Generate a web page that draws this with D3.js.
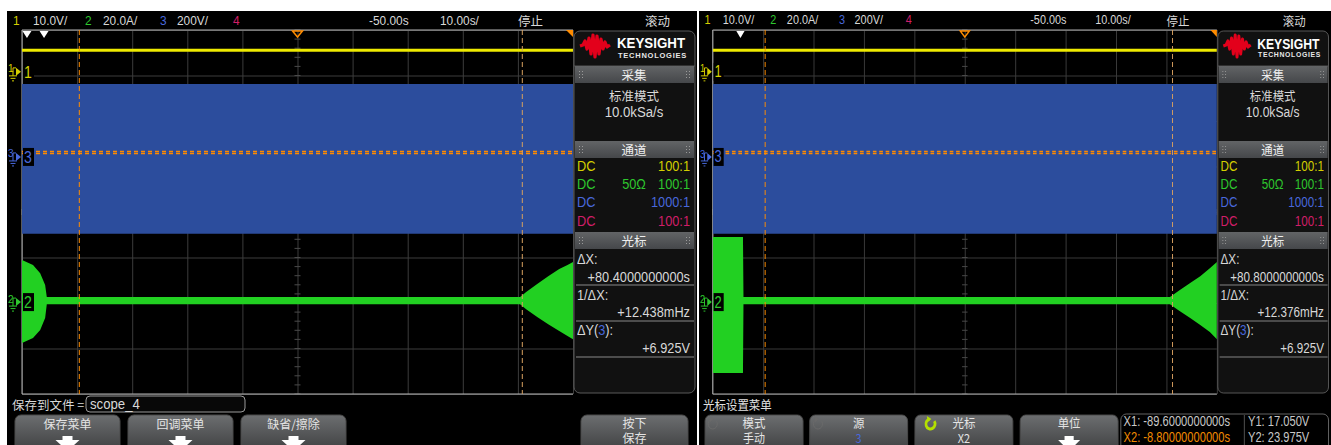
<!DOCTYPE html>
<html><head><meta charset="utf-8">
<script src="https://cdn.jsdelivr.net/npm/d3@7"></script>
<style>body{margin:0;background:#fff}svg{display:block}</style>
</head><body><svg id="c" width="1331" height="445"></svg>
<script>
// ---------------- data ----------------
const timeDomain = [-100, 0];                     // s  (-50 s centre, 10 s/div)
const timeTicks = [-100,-90,-80,-70,-60,-50,-40,-30,-20,-10,0];
const divTicks = [-4,-3,-2,-1,0,1,2,3,4];
const channelLabels = ["1","2","3","4"];
const channelScaleText = ["10.0V/","20.0A/","200V/",""];
const channelPerDiv = [10, 20, 200, 100];
const channelOffsetDiv = [3.08, -1.98, 1.21, 0];
const channelCoupling = ["DC","DC","DC","DC"];
const channelImpedance = ["","50Ω","",""];
const channelProbe = ["100:1","100:1","1000:1","100:1"];
const timebaseText = ["-50.00s","10.00s/"];
const runStateText = "停止";
const modeText = "滚动";
const acqTitle = "采集", chanTitle = "通道", cursorTitle = "光标";
const acqMode = ["标准模式","10.0kSa/s"];

// traces: [time s, min, max]
const ch1Trace = [[-100, 4.4, 5.1], [0, 4.4, 5.1]];
const ch3Trace = [[-100, -338, 321], [0, -338, 321]];
const ch2TraceA = [
  [-100,-18.0,18.5],[-98.0,-15.8,16.3],[-96.7,-12.3,12.7],[-95.8,-7.0,7.5],[-95.5,-0.9,2.2],
  [-9.6,-0.9,2.2],[-8.5,-3.1,4.4],[-6.5,-6.6,7.9],[-4.5,-9.7,11.4],[-2.5,-12.7,14.5],[-1.0,-14.9,16.3],[0,-16.3,17.6]];
const ch2TraceB = [
  [-100,-31.2,28.6],[-94.0,-31.2,28.6],[-93.9,-0.9,2.2],
  [-9.3,-0.9,2.2],[-7.7,-3.5,4.8],[-5.3,-7.0,8.4],[-3.3,-10.1,11.4],[-1.4,-13.2,14.9],[0,-16.3,17.6]];

// cursors
const cursorX1 = [-89.6, -89.6];
const cursorX2 = [-9.2, -8.8];
const cursorY = [17.05, 23.975];
const deltaXText = ["+80.4000000000s", "+80.8000000000s"];
const invDeltaXText = ["+12.438mHz", "+12.376mHz"];
const deltaYText = "+6.925V";
const refMarkers = [[-99.1, -96.0], [-94.5]];

// menus
const saveMenuPrompt = "保存到文件 =";
const saveMenuFile = "scope_4";
const saveMenuButtons = ["保存菜单","回调菜单","缺省/擦除"];
const saveMenuPress = ["按下","保存"];
const cursorMenuTitle = "光标设置菜单";
const cursorMenuButtons = [["模式","手动"],["源","3"],["光标","X2"],["单位",""]];
const cursorReadout = [["X1: -89.6000000000s","Y1: 17.050V"],["X2: -8.80000000000s","Y2: 23.975V"]];

// ---------------- drawing ----------------
const textColors = ["#d4cf00","#2ec82e","#4868dc","#d01e68"];
const FONT = "'Liberation Sans',Arial,sans-serif";
const CJK = "'Noto Sans CJK SC','Noto Sans CJK JP',sans-serif";

const svg = d3.select("#c");
const defs = svg.append("defs");
const btnGrad = defs.append("linearGradient").attr("id","btnGrad").attr("x1",0).attr("x2",0).attr("y1",0).attr("y2",1);
btnGrad.append("stop").attr("offset","0%").attr("stop-color","#6c6e70");
btnGrad.append("stop").attr("offset","100%").attr("stop-color","#3a3b3c");
const hdrGrad = defs.append("linearGradient").attr("id","hdrGrad").attr("x1",0).attr("x2",0).attr("y1",0).attr("y2",1);
hdrGrad.append("stop").attr("offset","0%").attr("stop-color","#626466");
hdrGrad.append("stop").attr("offset","100%").attr("stop-color","#45474a");

const screens = [
  {id:"A", tx:7, sx:1, w:690, ch2:ch2TraceA, i:0, menu:"save"},
  {id:"B", tx:699, sx:0.915, w:692, ch2:ch2TraceB, i:1, menu:"cursor"}
];

function txt(g, x, y, s, opt={}) {
  const sq = opt.sq || (opt.cjk ? 1 : 0.88);
  return g.append("text").attr("x",x/sq).attr("y",y).text(s)
    .attr("transform",`scale(${sq},1)`)
    .attr("font-family", opt.cjk ? CJK : FONT)
    .attr("font-size", opt.size || 13.5)
    .attr("font-weight", opt.weight || "normal")
    .attr("fill", opt.color || "#d8d8d8")
    .attr("text-anchor", opt.anchor || "start")
    .attr("dominant-baseline","central");
}

function downArrow(g, cx, top) {
  g.append("path").attr("fill","#fff")
    .attr("d",`M${cx-5},${top} h10 v4 h7 l-12,11 l-12,-11 h7 z`);
}

function cycleIcon(g, cx, cy, color, w) {
  const r = 5;
  g.append("path").attr("fill","none").attr("stroke",color).attr("stroke-width",w)
    .attr("d",`M${cx+r*Math.cos(-0.6)},${cy+r*Math.sin(-0.6)} A${r},${r} 0 1 1 ${cx-r*0.2},${cy-r*0.98}`);
  g.append("path").attr("fill",color).attr("d",`M${cx-r*0.2-3},${cy-r-3} l5,3 l-4,3 z`);
}

function grip(g, x, y) {
  for (let c=0;c<2;c++) for (let r=0;r<3;r++)
    g.append("rect").attr("x",x+c*3).attr("y",y+r*3).attr("width",1).attr("height",1).attr("fill","#9a9a9a");
}

screens.forEach(s => {
  const g = svg.append("g").attr("transform",`translate(${s.tx},0) scale(${s.sx},1)`);
  const X0 = 15, X1 = 566, Y0 = 30, Y1 = 394;
  g.append("rect").attr("x",0).attr("y",11).attr("width",s.w).attr("height",434).attr("fill","#000");

  const x = d3.scaleLinear().domain(timeDomain).range([X0, X1]);
  const yDiv = d3.scaleLinear().domain([-4, 4]).range([Y1, Y0]);
  const yCh = k => d3.scaleLinear()
      .domain([(-4 - channelOffsetDiv[k]) * channelPerDiv[k], (4 - channelOffsetDiv[k]) * channelPerDiv[k]])
      .range([Y1, Y0]);

  // ---- status bar ----
  txt(g, 6, 20, channelLabels[0], {color:textColors[0]});
  txt(g, 26, 20, channelScaleText[0]);
  txt(g, 78, 20, channelLabels[1], {color:textColors[1]});
  txt(g, 96, 20, channelScaleText[1]);
  txt(g, 153, 20, channelLabels[2], {color:textColors[2]});
  txt(g, 170, 20, channelScaleText[2]);
  txt(g, 226, 20, channelLabels[3], {color:textColors[3]});
  txt(g, 362, 20, timebaseText[0]);
  txt(g, 433, 20, timebaseText[1]);
  txt(g, 511, 20, runStateText, {cjk:true, size:12.5});
  txt(g, 638, 20, modeText, {cjk:true, size:12.5});

  // ---- graticule ----
  const clipId = "clip" + s.id;
  defs.append("clipPath").attr("id", clipId).append("rect")
    .attr("x",X0).attr("y",Y0).attr("width",X1-X0).attr("height",Y1-Y0);

  const gx = g.append("g").attr("transform",`translate(0,${Y0})`)
    .call(d3.axisBottom(x).tickValues(timeTicks).tickSize(Y1-Y0).tickFormat(""));
  gx.select(".domain").remove();
  gx.selectAll("line").attr("stroke","#3c3c3c");
  const gy = g.append("g").attr("transform",`translate(${X0},0)`)
    .call(d3.axisRight(yDiv).tickValues(divTicks).tickSize(X1-X0).tickFormat(""));
  gy.select(".domain").remove();
  gy.selectAll("line").attr("stroke","#3c3c3c");
  // minor ticks on centre lines
  const minor = g.append("g").attr("stroke","#4a4a4a");
  d3.range(-4, 4.001, 0.2).forEach(v => minor.append("line")
    .attr("x1", x(-50)-3).attr("x2", x(-50)+3).attr("y1", yDiv(v)).attr("y2", yDiv(v)));
  d3.range(-100, 0.001, 2).forEach(t => minor.append("line")
    .attr("x1", x(t)).attr("x2", x(t)).attr("y1", yDiv(0)-3).attr("y2", yDiv(0)+3));
  // border
  g.append("path").attr("fill","none").attr("stroke","#b4b4b4")
    .attr("d",`M${X1},${Y0} H${X0} V${Y1} H${X1}`);

  const plot = g.append("g").attr("clip-path",`url(#${clipId})`);
  const area = ys => d3.area().x(d => x(d[0])).y0(d => ys(d[1])).y1(d => ys(d[2]));

  // ch3 (blue band)
  plot.append("path").datum(ch3Trace).attr("d", area(yCh(2))).attr("fill","#2c4d9d");
  // ch1 (yellow)
  plot.append("path").datum(ch1Trace).attr("d", area(yCh(0))).attr("fill","#eeea00");
  // ch2 (green)
  plot.append("path").datum(s.ch2).attr("d", area(yCh(1))).attr("fill","#22d022");

  // cursors
  cursorY.forEach(v => {
    const yy = Math.round(yCh(2)(v)) + 0.5;
    plot.append("line").attr("x1",X0).attr("x2",X1).attr("y1", yy).attr("y2", yy)
      .attr("stroke","#ff8a00").attr("stroke-width",1.4).attr("stroke-dasharray","4,3");
  });
  plot.append("line").attr("x1", x(cursorX1[s.i])).attr("x2", x(cursorX1[s.i]))
      .attr("y1",Y0).attr("y2",Y1).attr("stroke","#ff8c00").attr("stroke-dasharray","5,3");
  plot.append("line").attr("x1", x(cursorX2[s.i])).attr("x2", x(cursorX2[s.i]))
      .attr("y1",Y0).attr("y2",Y1).attr("stroke","#d8a060").attr("stroke-dasharray","5,3");

  // trigger / reference markers
  g.append("path").attr("fill","none").attr("stroke","#ff8c00").attr("stroke-width",1.5)
    .attr("d",`M${x(-50)-5},${Y0+1} L${x(-50)+5},${Y0+1} L${x(-50)},${Y0+7} Z`);
  g.append("path").attr("fill","#ff8c00").attr("d",`M${X1-7},${Y0} L${X1},${Y0} L${X1},${Y0+7} Z`);
  refMarkers[s.i].forEach(t => g.append("path").attr("fill","#fff")
    .attr("d",`M${x(t)-4.5},${Y0+1} L${x(t)+4.5},${Y0+1} L${x(t)},${Y0+8} Z`));

  // channel ground markers
  [0,2,1].forEach(k => {
    const yy = yCh(k)(0), c = textColors[k];
    txt(g, 1, yy-3, channelLabels[k], {color:c, size:10, sq:1});
    g.append("path").attr("fill",c).attr("d",`M${9},${yy-4} l5,4 l-5,4 z`);
    g.append("path").attr("stroke",c).attr("fill","none")
      .attr("d",`M6,${yy-4} h3 M6,${yy-4} v8 M2,${yy+4} h8 M3.5,${yy+6.5} h5 M5,${yy+9} h2`);
    g.append("rect").attr("x",X0+1).attr("y",yy-9).attr("width",11).attr("height",18).attr("fill","#000");
    txt(g, X0+2, yy, channelLabels[k], {color:c, size:16});
  });

  // ---- sidebar ----
  const SX0 = 567, SX1 = 688;
  g.append("rect").attr("x",SX0).attr("y",31).attr("width",SX1-SX0).attr("height",362)
    .attr("rx",6).attr("fill","#111").attr("stroke","#5a5a5a");
  // logo
  const logoPts = [[0,12],[3,11],[5,7],[7,15],[9,4],[11,20],[13,1],[15,23],[17,2],[19,20],[21,5],[23,15],[25,8],[27,13],[30,11]];
  g.append("path").datum(logoPts).attr("fill","none").attr("stroke","#e3001b").attr("stroke-width",3.2)
    .attr("stroke-linejoin","round")
    .attr("transform",`translate(573,34)`)
    .attr("d", d3.line().x(d => d[0]).y(d => d[1]));
  txt(g, 610, 43, "KEYSIGHT", {size:15.5, weight:"bold", color:"#fff", sq:0.86});
  txt(g, 611, 55, "TECHNOLOGIES", {size:7.5, weight:"bold", color:"#e8e8e8", sq:1}).attr("letter-spacing",0.75);
  g.append("line").attr("x1",SX0).attr("x2",SX1).attr("y1",66).attr("y2",66).attr("stroke","#555");

  function header(y, label) {
    g.append("rect").attr("x",SX0+1).attr("y",y).attr("width",SX1-SX0-2).attr("height",17).attr("fill","url(#hdrGrad)");
    grip(g, 572, y+5); grip(g, 679, y+5);
    txt(g, 627, y+8.5, label, {cjk:true, size:12.5, anchor:"middle", color:"#eee"});
  }
  header(66, acqTitle);
  txt(g, 627, 95, acqMode[0], {cjk:true, size:12.5, anchor:"middle"});
  txt(g, 627, 112, acqMode[1], {size:15, anchor:"middle"});
  header(141, chanTitle);
  [166, 184, 202.5, 221].forEach((yy, k) => {
    txt(g, 570, yy, channelCoupling[k], {size:14.5, color:textColors[k]});
    if (channelImpedance[k]) txt(g, 627, yy, channelImpedance[k], {size:14.5, color:textColors[k], anchor:"middle"});
    txt(g, 683, yy, channelProbe[k], {size:14.5, color:textColors[k], anchor:"end"});
  });
  header(232, cursorTitle);
  txt(g, 570, 259, "ΔX:", {size:14.5});
  txt(g, 683, 277, deltaXText[s.i], {size:14.5, anchor:"end"});
  txt(g, 570, 295, "1/ΔX:", {size:14.5});
  txt(g, 683, 312, invDeltaXText[s.i], {size:14.5, anchor:"end"});
  const dy = txt(g, 570, 330, "ΔY(", {size:14.5});
  dy.append("tspan").attr("fill",textColors[2]).text(channelLabels[2]);
  dy.append("tspan").text("):");
  txt(g, 683, 348, deltaYText, {size:14.5, anchor:"end"});
  [285, 321, 357].forEach(yy => g.append("line").attr("x1",SX0+2).attr("x2",SX1-1)
    .attr("y1",yy).attr("y2",yy).attr("stroke","#8a8a8a"));

  // ---- bottom menu ----
  function btn(x0, x1) {
    g.append("rect").attr("x",x0).attr("y",415).attr("width",x1-x0).attr("height",40).attr("rx",6)
      .attr("fill","url(#btnGrad)").attr("stroke","#4a4a4a");
  }
  if (s.menu === "save") {
    txt(g, 5, 404, saveMenuPrompt, {cjk:true, size:12.5});
    g.append("rect").attr("x",79).attr("y",396).attr("width",159).attr("height",16).attr("rx",4)
      .attr("fill","#080808").attr("stroke","#9a9a9a");
    txt(g, 83, 404, saveMenuFile, {size:15});
    [[8,113],[121,226],[234,339]].forEach((b, k) => {
      btn(b[0], b[1]);
      txt(g, (b[0]+b[1])/2, 423, saveMenuButtons[k], {cjk:true, size:12, anchor:"middle", color:"#e4e4e4"});
      downArrow(g, (b[0]+b[1])/2, 436);
    });
    btn(574, 681);
    txt(g, 627.5, 422, saveMenuPress[0], {cjk:true, size:12, anchor:"middle", color:"#e4e4e4"});
    txt(g, 627.5, 437.5, saveMenuPress[1], {cjk:true, size:12, anchor:"middle", color:"#e4e4e4"});
  } else {
    txt(g, 4.5, 404, cursorMenuTitle, {cjk:true, size:12.5, color:"#e0e0e0"});
    [[6.6,113.7],[121,228],[236,343],[351,458]].forEach((b, k) => {
      btn(b[0], b[1]);
      const cx = (b[0]+b[1])/2;
      txt(g, cx, 422, cursorMenuButtons[k][0], {cjk:true, size:12.5, anchor:"middle", color:"#e4e4e4"});
      if (k === 3) downArrow(g, cx, 436);
      else txt(g, cx, 437.5, cursorMenuButtons[k][1], {cjk:true, size:12, anchor:"middle",
             color: k === 1 ? textColors[2] : "#e4e4e4"});
    });
    cycleIcon(g, 15, 424, "#6a6a6a", 1);
    cycleIcon(g, 130, 424, "#6a6a6a", 1);
    cycleIcon(g, 253, 424, "#b4e000", 3);
    g.append("rect").attr("x",461).attr("y",414).attr("width",227).attr("height",40).attr("rx",6)
      .attr("fill","#000").attr("stroke","#666");
    g.append("line").attr("x1",596).attr("x2",596).attr("y1",415).attr("y2",445).attr("stroke","#555");
    txt(g, 464, 422, cursorReadout[0][0], {size:14, color:"#c8c8c8", sq:0.87});
    txt(g, 464, 437.5, cursorReadout[1][0], {size:14, color:"#f08a00", sq:0.87});
    txt(g, 600, 422, cursorReadout[0][1], {size:14, color:"#c8c8c8", sq:0.87});
    txt(g, 600, 437.5, cursorReadout[1][1], {size:14, color:"#c8c8c8", sq:0.87});
  }
});
</script></body></html>
